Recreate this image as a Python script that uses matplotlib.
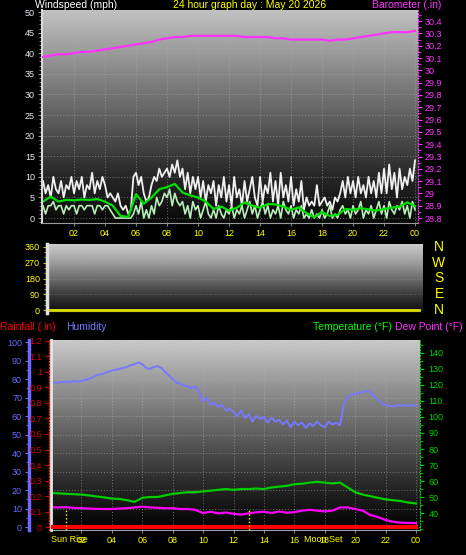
import matplotlib
matplotlib.use("Agg")
import matplotlib.pyplot as plt
import numpy as np
from matplotlib.colors import LinearSegmentedColormap
from matplotlib.ticker import MultipleLocator, FuncFormatter

plt.rcParams['font.family'] = ['Liberation Sans', 'DejaVu Sans']

W, H = 466, 555

# ---- data -------------------------------------------------------------
hours_10min = np.arange(145) / 6
hours_15min = np.arange(97) / 4
hours_30min = np.arange(49) / 2

# wind gust (mph), every 10 minutes
gust = [9, 6, 8, 5, 10, 7,   6, 9, 5, 8, 7, 10,   6, 9, 7, 10, 5, 8,
        7, 11, 6, 9, 7, 10,  8, 5, 6, 5, 4, 6,    3, 2, 3, 1, 2, 10,
        11, 8, 10, 6, 4, 5,  8, 10, 9, 12, 10, 11, 12, 10, 13, 11, 14, 10,
        12, 7, 11, 6, 10, 7, 10, 5, 9, 4, 8, 6,   9, 3, 8, 5, 10, 4,
        8, 3, 10, 5, 7, 3,   9, 4, 7, 10, 5, 3,   10, 4, 8, 6, 11, 4,
        9, 3, 11, 5, 8, 4,   10, 3, 7, 4, 9, 2,   5, 3, 4, 3, 8, 3,
        4, 5, 3, 4, 2, 5,    4, 6, 9, 5, 10, 6,   9, 5, 10, 6, 8, 5,
        10, 6, 9, 5, 11, 6,  12, 6, 13, 7, 11, 5, 12, 7, 10, 8, 12, 9,
        14]

# wind speed (mph), every 10 minutes
wind = [3, 1, 3, 3, 4, 2,  3, 3, 1, 3, 2, 3,  3, 1, 3, 3, 2, 3,
        3, 3, 1, 3, 3, 2,  3, 3, 2, 1, 0, 0,  0, 0, 0, 0, 0, 1,
        3, 1, 4, 0, 2, 0,  3, 1, 5, 3, 4, 6,  5, 7, 3, 6, 4, 3,
        4, 1, 3, 0, 4, 2,  3, 0, 2, 4, 1, 0,  2, 0, 3, 1, 0, 2,
        1, 3, 0, 2, 1, 3,  0, 2, 4, 1, 3, 0,  2, 4, 1, 3, 0, 2,
        1, 3, 0, 4, 2, 1,  3, 0, 2, 1, 3, 0,  1, 0, 2, 0, 1, 0,
        2, 0, 1, 3, 0, 1,  0, 2, 3, 1, 2, 0,  3, 1, 2, 4, 0, 2,
        1, 3, 0, 2, 4, 1,  3, 0, 4, 2, 1, 3,  2, 4, 1, 3, 0, 4,
        2]

# average wind speed (mph), every 30 minutes
wind_avg = [4.0, 5.2, 4.0, 4.4, 4.3, 4.5, 4.4, 4.6, 4.0, 3.0, 0.5, 0.3,
            5.8, 3.5, 5.0, 7.0, 7.5, 8.3, 6.2, 5.5, 5.0, 4.0, 2.2, 2.8,
            1.8, 2.5, 3.8, 3.0, 2.5, 3.4, 3.3, 2.8, 2.0, 2.6, 1.2, 0.2,
            1.5, 0.5, 0.8, 2.2, 2.0, 2.4, 2.1, 1.8, 2.2, 2.5, 2.8, 3.8,
            2.9]

# barometer (in), every 30 minutes
barometer = [30.11, 30.12, 30.13, 30.13, 30.14, 30.15, 30.15, 30.16,
             30.17, 30.18, 30.19, 30.20, 30.21, 30.22, 30.23, 30.25,
             30.26, 30.27, 30.27, 30.28, 30.28, 30.28, 30.28, 30.28,
             30.28, 30.28, 30.27, 30.27, 30.27, 30.27, 30.26, 30.26,
             30.25, 30.25, 30.25, 30.25, 30.25, 30.24, 30.25, 30.25,
             30.26, 30.27, 30.28, 30.29, 30.30, 30.31, 30.31, 30.31,
             30.32]

# humidity (%), every 15 minutes
humidity = [78, 78, 78, 78.5,  78.5, 78.5, 79, 78.5,  79, 79.5, 80, 81,
            82, 82.5, 83, 84,  84.5, 85, 85.5, 86,  86.5, 87.5, 88, 89,
            88, 86, 85.5, 86.5,  87, 86, 84, 82,  80, 78, 77.5, 76.5,
            76, 75, 76, 73,  68, 70, 66, 67.5,  65, 66, 63, 64,
            62, 60, 63, 59,  61, 57, 60, 58.5,  59.5, 56.5, 59, 57,
            58, 55.5, 57.5, 54,  57, 55, 56.5, 53.5,  56, 54.5, 57, 55,
            54, 57, 55.5, 56.5,  55, 66, 70, 71.5,  72, 72.5, 73, 73.5,
            73, 70.5, 69, 67,  66, 65.5, 65, 66,  65.5, 66, 65.5, 66,
            65.5]

# temperature and dew point (F), every 30 minutes
temperature = [52.5, 52.3, 52.0, 51.8, 51.5, 51.0, 50.3, 49.8, 49.0, 48.8,
               48.0, 47.0, 49.5, 50.0, 50.0, 51.0, 52.0, 52.5, 53.0, 53.0,
               53.5, 54.0, 54.5, 55.0, 54.5, 55.0, 55.0, 55.3, 55.0, 56.0,
               56.5, 57.0, 58.0, 58.3, 59.0, 59.5, 59.0, 58.5, 59.0, 56.0,
               53.0, 51.5, 50.5, 49.5, 48.5, 48.0, 47.5, 46.5, 46.0]
dew_point = [43.7, 43.5, 43.6, 43.2, 43.0, 42.8, 42.6, 42.5, 42.5, 42.8,
             43.0, 43.5, 44.0, 43.5, 43.3, 43.0, 43.0, 42.5, 42.5, 42.0,
             40.0, 40.8, 39.8, 40.3, 39.5, 39.0, 39.8, 40.5, 40.8, 40.0,
             41.0, 40.2, 40.5, 41.5, 42.0, 41.5, 41.0, 41.5, 43.5, 43.5,
             42.5, 41.5, 38.7, 37.5, 35.6, 34.5, 34.0, 33.8, 33.7]

rain_hours = [0, 24]
rainfall = [0.0, 0.0]

dir_hours = [0, 24]
wind_dir = [0, 0]

hour_ticks = list(range(2, 25, 2))
hour_labels = ['02', '04', '06', '08', '10', '12', '14', '16', '18', '20', '22', '00']
compass_deg = [360, 270, 180, 90, 0]
compass_txt = ['N', 'W', 'S', 'E', 'N']
event_lines = [1.0, 13.0]
event_labels = [('Sun Rise', 0.0), ('Moon Set', 17.9)]

YELLOW = '#ffff00'
MAGENTA = '#ff33ff'


def px_axes(x0, y0, x1, y1):
    return fig.add_axes([x0 / W, 1 - y1 / H, (x1 - x0) / W, (y1 - y0) / H])


def gradient(x0, y0, x1, y1, colors):
    bg = px_axes(x0, y0, x1, y1)
    cmap = LinearSegmentedColormap.from_list('g', colors)
    bg.imshow(np.linspace(0, 1, 256).reshape(-1, 1), cmap=cmap, aspect='auto',
              extent=(0, 1, 0, 1), origin='lower', interpolation='bilinear')
    bg.axis('off')


fig = plt.figure(figsize=(W / 100, H / 100), dpi=100, facecolor='black')

# ---- top panel: wind speed + barometer --------------------------------
gradient(42, 10, 418, 223, ['#080808', '#2c2c2c', '#606060', '#909090', '#c2c2c2'])
ax1 = px_axes(42, 10, 418, 223)
ax1.patch.set_visible(False)
ax1.set_xlim(-0.065, 24.19)
ax1.set_ylim(-1.2, 50.5)
ax1.set_xticks(hour_ticks, labels=hour_labels)
ax1.set_yticks(range(0, 51, 5))
ax1.yaxis.set_minor_locator(MultipleLocator(1))
ax1.grid(True, color='#b4b4b4', ls=(0, (1, 2)), lw=0.7, alpha=0.55)
ax1.tick_params(axis='y', which='both', labelcolor='#e6ecf4', color='#909090',
                labelsize=6.5, length=3, pad=2)
ax1.tick_params(axis='y', which='minor', length=2)
ax1.tick_params(axis='x', labelcolor=YELLOW, color='#808080', labelsize=6.5,
                length=2, pad=2)

ax1.plot(hours_10min, gust, color='#f0f0f0', lw=1.3)
ax1.plot(hours_10min, wind, color='#b8eeb8', lw=1.2)
ax1.plot(hours_30min, wind_avg, color='#00e000', lw=1.6)

ax1b = ax1.twinx()
ax1b.set_ylim(28.76, 30.49)
ax1b.set_yticks(np.round(np.arange(28.8, 30.45, 0.1), 1))
ax1b.yaxis.set_major_formatter(FuncFormatter(lambda v, p: f'{v:g}'))
ax1b.yaxis.set_minor_locator(MultipleLocator(0.05))
ax1b.tick_params(axis='y', which='both', labelcolor=MAGENTA, color=MAGENTA,
                 labelsize=6.5, length=3, pad=2)
ax1b.tick_params(axis='y', which='minor', length=2)
ax1b.plot(hours_30min, barometer, color=MAGENTA, lw=1.6)

for a in (ax1, ax1b):
    for s in a.spines.values():
        s.set_visible(False)
ax1.spines['left'].set_visible(True)
ax1.spines['left'].set_color('#d8d8d8')
ax1.spines['left'].set_linewidth(1.5)
ax1.spines['bottom'].set_visible(True)
ax1.spines['bottom'].set_color('#9a9a9a')
ax1b.spines['right'].set_visible(True)
ax1b.spines['right'].set_color(MAGENTA)
ax1b.spines['right'].set_linestyle(':')

# ---- middle panel: wind direction -------------------------------------
gradient(47, 244, 422, 313, ['#0c0c0c', '#363636', '#6c6c6c', '#a0a0a0', '#cccccc'])
ax2 = px_axes(47, 244, 422, 313)
ax2.patch.set_visible(False)
ax2.set_xlim(-0.2, 24.2)
ax2.set_ylim(-17, 377)
ax2.set_xticks([])
ax2.set_yticks([0, 90, 180, 270, 360])
ax2.yaxis.set_minor_locator(MultipleLocator(30))
ax2.grid(True, axis='y', color='#b0b0b0', ls=(0, (1, 2)), lw=0.6, alpha=0.5)
ax2.tick_params(axis='y', which='both', labelcolor=YELLOW, color='#c8c800',
                labelsize=6.5, length=3, pad=2)
ax2.tick_params(axis='y', which='minor', length=2)
ax2.plot(dir_hours, wind_dir, color='#e0e000', lw=2)
for s in ax2.spines.values():
    s.set_visible(False)
ax2.spines['left'].set_visible(True)
ax2.spines['left'].set_color('#e0e0e0')
ax2.spines['left'].set_linewidth(2.5)
for deg, t in zip(compass_deg, compass_txt):
    y = 310 - deg * 63 / 360
    fig.text(439 / W, 1 - y / H, t, color=YELLOW, fontsize=10, ha='center', va='center')

# ---- bottom panel: humidity, rain, temperature, dew point -------------
gradient(51, 340, 420, 530, ['#000000', '#2a2a2a', '#5e5e5e', '#929292', '#cacaca'])
hum = px_axes(51, 340, 420, 530)
hum.patch.set_visible(False)
hum.set_xlim(0, 24.26)
hum.set_ylim(-1.6, 101.1)
hum.set_xticks(hour_ticks, labels=hour_labels)
hum.set_yticks(range(0, 101, 10))
hum.yaxis.set_minor_locator(MultipleLocator(5))
hum.grid(True, color='#b4b4b4', ls=(0, (1, 2)), lw=0.7, alpha=0.55)
hum.tick_params(axis='x', labelcolor=YELLOW, color='#808080', labelsize=6.5,
                length=2, pad=2)
hum.tick_params(axis='y', which='both', labelcolor='#6a6aff', color='#6a6aff',
                labelsize=6.5, length=3, pad=2)
hum.tick_params(axis='y', which='minor', length=2)
hum.plot(hours_15min, humidity, color='#7878ff', lw=1.4)

temp = hum.twinx()
temp.set_ylim(29.4, 148.1)
temp.set_yticks(range(40, 141, 10))
temp.yaxis.set_minor_locator(MultipleLocator(5))
temp.tick_params(axis='y', which='both', labelcolor='#00d000', color='#00d000',
                 labelsize=6.5, length=3, pad=3)
temp.tick_params(axis='y', which='minor', length=2)
temp.plot(hours_30min, temperature, color='#00cc00', lw=1.6)
temp.plot(hours_30min, dew_point, color='#ff00ff', lw=1.6)

rain = hum.twinx()
rain.set_ylim(-0.019, 1.206)
rain.yaxis.tick_left()
rain.yaxis.set_label_position('left')
rain.set_yticks(np.round(np.arange(0, 1.25, 0.1), 1))
rain.yaxis.set_major_formatter(FuncFormatter(lambda v, p: f'{v:g}'))
rain.tick_params(axis='y', labelcolor='#dd0000', color='#dd0000',
                 labelsize=6.5, length=3, pad=2)
rain.plot(rain_hours, rainfall, color='#ff0000', lw=3)
for h in event_lines:
    rain.plot([h, h], [-0.019, 0.11], color=YELLOW, ls=':', lw=1)
for (txt, h), ha in zip(event_labels, ['left', 'center']):
    rain.annotate(txt, xy=(h, H - 540), xycoords=('data', 'figure pixels'),
                  color=YELLOW, fontsize=6.5, ha=ha, va='center')

for a in (hum, temp, rain):
    for s in a.spines.values():
        s.set_visible(False)
hum.spines['left'].set_visible(True)
hum.spines['left'].set_position(('axes', -22 / 369))
hum.spines['left'].set_color('#6a6aff')
hum.spines['left'].set_linewidth(2.5)
hum.spines['bottom'].set_visible(True)
hum.spines['bottom'].set_color('#a0a0a0')
temp.spines['left'].set_visible(True)
temp.spines['left'].set_color('#e8e8e8')
temp.spines['left'].set_linewidth(2)
temp.spines['right'].set_visible(True)
temp.spines['right'].set_color('#00d000')
temp.spines['right'].set_linestyle(':')
rain.spines['left'].set_visible(True)
rain.spines['left'].set_position(('axes', -2 / 369))
rain.spines['left'].set_color('#ff2020')
rain.spines['left'].set_linestyle(':')

# ---- titles -----------------------------------------------------------
def label(x, y, s, color, ha='left'):
    fig.text(x / W, 1 - y / H, s, color=color, fontsize=7.5, ha=ha, va='center')

label(35, 5, 'Windspeed (mph)', 'white')
label(250, 5, '24 hour graph day : May 20 2026', YELLOW, ha='center')
label(372, 5, 'Barometer (.in)', MAGENTA)
label(0, 327, 'Rainfall (.in)', '#ff0000')
label(66, 327, 'Humidity', '#7878ff')
label(313, 327, 'Temperature (°F)', '#00ff00')
label(395, 327, 'Dew Point (°F)', MAGENTA)

fig.savefig('out.png', dpi=100, facecolor='black')
